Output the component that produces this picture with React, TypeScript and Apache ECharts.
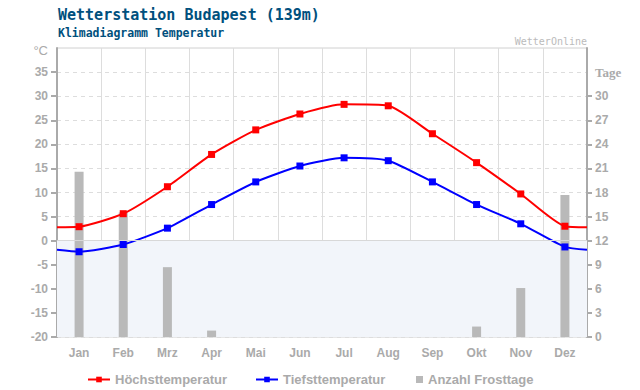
import React, { useEffect, useRef } from "react";
import * as echarts from "echarts";

const months = ["Jan", "Feb", "Mrz", "Apr", "Mai", "Jun", "Jul", "Aug", "Sep", "Okt", "Nov", "Dez"];
const highTemps = [2.9, 5.6, 11.2, 17.9, 23.0, 26.3, 28.3, 28.0, 22.2, 16.2, 9.7, 3.0];
const lowTemps = [-2.3, -0.8, 2.6, 7.5, 12.2, 15.5, 17.2, 16.6, 12.2, 7.5, 3.5, -1.3];
const frostDays = [20.6, 15.5, 8.7, 0.8, 0, 0, 0, 0, 0, 1.3, 6.1, 17.7];
const edgeHigh = 2.8;
const edgeLow = -1.9;
const tempTicks = [-20, -15, -10, -5, 0, 5, 10, 15, 20, 25, 30, 35];
const dayTicks = [0, 3, 6, 9, 12, 15, 18, 21, 24, 27, 30];

function lineData(vals: number[], edge: number) {
  return [
    { value: [0, edge], symbol: "none" },
    ...vals.map((v, i) => ({ value: [i + 0.5, v] })),
    { value: [12, edge], symbol: "none" },
  ];
}

const labelFont = { color: "#aaaaaa", fontWeight: "bold" as const, fontFamily: "Liberation Sans", fontSize: 12 };

export default function App() {
  const ref = useRef<HTMLDivElement>(null);
  useEffect(() => {
    if (!ref.current) return;
    const chart = echarts.init(ref.current, null, { renderer: "svg" });
    const legendBase = {
      top: 373,
      padding: 0,
      itemWidth: 22,
      itemHeight: 7,
      textStyle: { ...labelFont, fontSize: 13 },
    };
    chart.setOption({
      animation: false,
      backgroundColor: "#ffffff",
      title: [
        {
          text: "Wetterstation Budapest (139m)",
          subtext: "Klimadiagramm Temperatur",
          left: 53,
          top: 2,
          itemGap: 5,
          textStyle: { fontFamily: "DejaVu Sans Mono", fontWeight: "bold", fontSize: 15, color: "#00507d" },
          subtextStyle: { fontFamily: "DejaVu Sans Mono", fontWeight: "bold", fontSize: 11.5, color: "#00507d" },
        },
        {
          text: "WetterOnline",
          right: 53,
          top: 36,
          padding: 0,
          textStyle: { fontFamily: "DejaVu Sans Mono", fontWeight: "normal", fontSize: 10, color: "#bbbbbb" },
        },
      ],
      legend: [
        { ...legendBase, data: ["Höchsttemperatur"], left: 87 },
        { ...legendBase, data: ["Tiefsttemperatur"], left: 255 },
        {
          ...legendBase,
          data: [{ name: "Anzahl Frosttage", icon: "rect" }],
          left: 416,
          itemWidth: 7,
          itemHeight: 7,
        },
      ],
      grid: {
        left: 57,
        right: 53,
        top: 48,
        bottom: 53,
        show: true,
        borderColor: "#d0d0d0",
        borderWidth: 1,
        backgroundColor: "#ffffff",
      },
      xAxis: [
        {
          type: "category",
          data: months,
          boundaryGap: true,
          axisLine: { lineStyle: { color: "#aaaaaa", width: 2 } },
          axisTick: { alignWithLabel: true, length: 6, lineStyle: { color: "#999999", width: 3 } },
          axisLabel: { ...labelFont, margin: 10 },
          splitLine: { show: true, lineStyle: { color: "#dddddd", width: 1 } },
        },
        { type: "value", min: 0, max: 12, show: false },
      ],
      yAxis: [
        {
          type: "value",
          position: "left",
          min: -20,
          max: 40,
          interval: 5,
          axisLine: { show: true, lineStyle: { color: "#aaaaaa", width: 2 } },
          axisTick: { show: true, length: 6, lineStyle: { color: "#aaaaaa", width: 2 }, customValues: tempTicks },
          axisLabel: {
            ...labelFont,
            margin: 9,
            formatter: (v: number) => (v === 40 ? "{u|°C}" : String(v)),
            rich: { u: { color: "#aaaaaa", fontFamily: "Liberation Sans", fontSize: 13, fontWeight: "normal", padding: [4, 0, 0, 0] } },
          },
          splitLine: { show: true, lineStyle: { color: "#dddddd", width: 1, type: [4, 4] } },
        },
        {
          type: "value",
          position: "right",
          min: 0,
          max: 36,
          interval: 3,
          axisLine: { show: true, lineStyle: { color: "#aaaaaa", width: 2 } },
          axisTick: { show: true, length: 5, lineStyle: { color: "#aaaaaa", width: 2 }, customValues: dayTicks },
          axisLabel: {
            ...labelFont,
            margin: 8,
            formatter: (v: number) => (v === 36 ? "" : v === 33 ? "{t|Tage}" : String(v)),
            rich: { t: { color: "#aaaaaa", fontFamily: "Liberation Serif", fontSize: 13, fontWeight: "bold" } },
          },
          splitLine: { show: false },
        },
      ],
      series: [
        {
          name: "",
          type: "line",
          xAxisIndex: 1,
          yAxisIndex: 0,
          data: [],
          z: 1,
          silent: true,
          markArea: {
            silent: true,
            itemStyle: { color: "#f2f5fa" },
            data: [[{ yAxis: -20 }, { yAxis: 0 }]],
          },
          markLine: {
            silent: true,
            symbol: "none",
            label: { show: false },
            lineStyle: { color: "#d8d8d8", type: "solid", width: 1 },
            data: [{ yAxis: 0 }],
          },
        },
        {
          name: "Anzahl Frosttage",
          type: "bar",
          xAxisIndex: 0,
          yAxisIndex: 1,
          data: frostDays,
          barWidth: 9,
          itemStyle: { color: "#b9b9b9" },
          z: 2,
        },
        {
          name: "Höchsttemperatur",
          type: "line",
          xAxisIndex: 1,
          yAxisIndex: 0,
          data: lineData(highTemps, edgeHigh),
          smooth: 0.2,
          symbol: "rect",
          symbolSize: 7,
          lineStyle: { color: "#ff0000", width: 2 },
          itemStyle: { color: "#ff0000" },
          z: 3,
        },
        {
          name: "Tiefsttemperatur",
          type: "line",
          xAxisIndex: 1,
          yAxisIndex: 0,
          data: lineData(lowTemps, edgeLow),
          smooth: 0.2,
          symbol: "rect",
          symbolSize: 7,
          lineStyle: { color: "#0000ff", width: 2 },
          itemStyle: { color: "#0000ff" },
          z: 3,
        },
      ],
    });
    return () => chart.dispose();
  }, []);
  return <div ref={ref} style={{ position: "fixed", left: 0, top: 0, width: 640, height: 390 }} />;
}
